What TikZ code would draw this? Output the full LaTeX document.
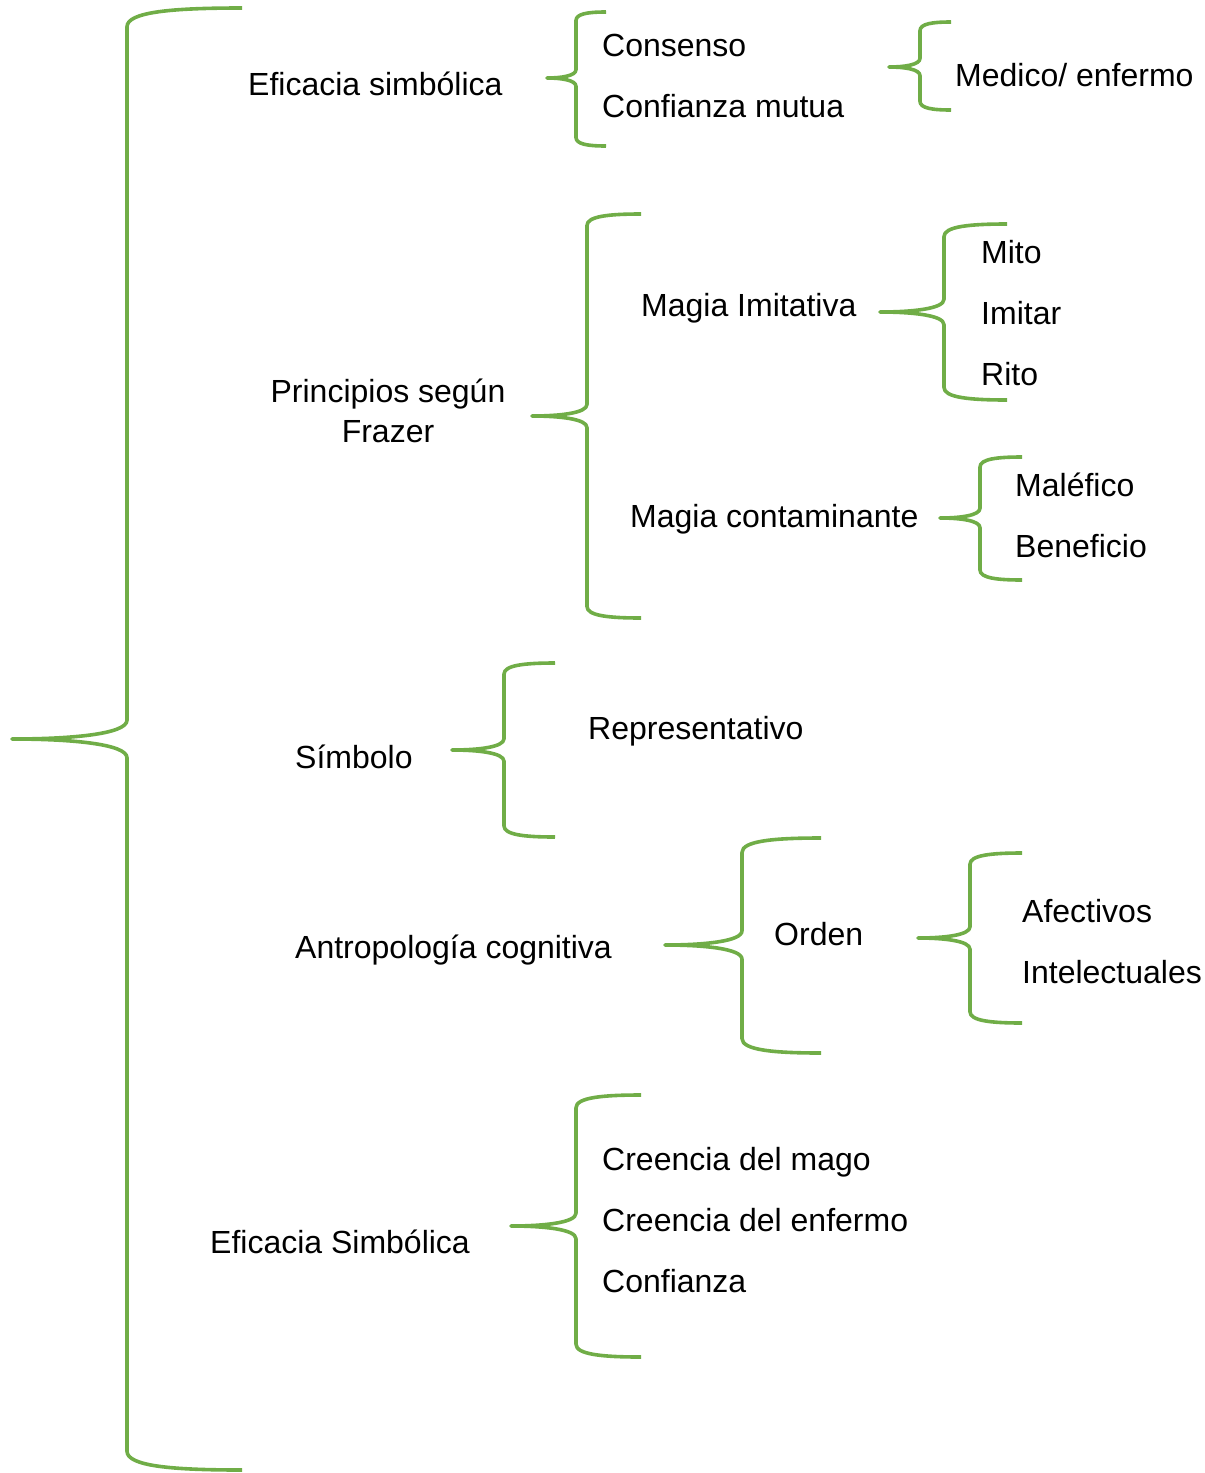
\documentclass[tikz,border=0pt]{standalone}
\usepackage{fontspec}
\setmainfont{Liberation Sans}
\definecolor{brgreen}{RGB}{112,173,71}
\tikzset{
  br/.style={draw=brgreen, line width=3.6pt, line join=round},
  lbl/.style={anchor=base west, inner sep=0pt, font=\fontsize{32}{40}\selectfont},
  clbl/.style={anchor=base, inner sep=0pt, align=center, font=\fontsize{32}{40}\selectfont},
}
% #1 tipx, #2 tipy, #3 spinex, #4 topy, #5 boty, #6 endx
\newcommand{\curlyb}[6]{%
  \pgfmathsetmacro{\bdx}{#6-#3}%
  \pgfmathsetmacro{\btdx}{#3-#1}%
  \pgfmathsetmacro{\br}{0.12*\bdx+5}%
  \pgfmathsetmacro{\bh}{0.12*\btdx+5}%
  \draw[br] (#6,#4) .. controls (#3+0.4*\bdx,#4) and (#3,#4+0.2*\br) .. (#3,#4+\br)
    -- (#3,#2-\bh) .. controls (#3,#2-0.25*\bh) and (#1+0.5*\btdx,#2) .. (#1,#2)
    .. controls (#1+0.5*\btdx,#2) and (#3,#2+0.25*\bh) .. (#3,#2+\bh)
    -- (#3,#5-\br) .. controls (#3,#5-0.2*\br) and (#3+0.4*\bdx,#5) .. (#6,#5);%
}
\begin{document}
\begin{tikzpicture}[x=1pt,y=-1pt]
\useasboundingbox (0,0) rectangle (1205,1473);
% braces
\curlyb{12}{739}{127}{8}{1470}{242}
\curlyb{547}{78}{576}{12}{146}{606}
\curlyb{889}{67}{920}{22}{110}{951}
\curlyb{532}{416}{587}{214}{618}{641}
\curlyb{880}{312}{944}{224}{400}{1007}
\curlyb{940}{518}{980}{457}{580}{1022}
\curlyb{452}{750}{504}{663}{837}{555}
\curlyb{665}{945}{742}{838}{1053}{821}
\curlyb{918}{938}{970}{853}{1023}{1022}
\curlyb{511}{1226}{576}{1095}{1357}{641}
% labels
\node[lbl] (efs) at (248,95.5) {Eficacia simbólica};
\node[lbl] (cons) at (602,56.5) {Consenso};
\node[lbl] (conf) at (602,117.5) {Confianza mutua};
\node[lbl] (med) at (955,86.5) {Medico/ enfermo};
\node[clbl] (prin) at (388,442.5) {Principios según\\Frazer};
\node[lbl] (mimi) at (641,316.5) {Magia Imitativa};
\node[lbl] (mito) at (981,263.5) {Mito};
\node[lbl] (imit) at (981,324.5) {Imitar};
\node[lbl] (rito) at (981,385.5) {Rito};
\node[lbl] (mcon) at (630,527.5) {Magia contaminante};
\node[lbl] (male) at (1015,496.5) {Maléfico};
\node[lbl] (bene) at (1015,557.5) {Beneficio};
\node[lbl] (repr) at (588,739.5) {Representativo};
\node[lbl] (simb) at (295,768.5) {Símbolo};
\node[lbl] (antr) at (295,958.5) {Antropología cognitiva};
\node[lbl] (orden) at (774,945.5) {Orden};
\node[lbl] (afec) at (1022,922.5) {Afectivos};
\node[lbl] (inte) at (1022,983.5) {Intelectuales};
\node[lbl] (cmag) at (602,1170.5) {Creencia del mago};
\node[lbl] (cenf) at (602,1231.5) {Creencia del enfermo};
\node[lbl] (cfz) at (602,1292.5) {Confianza};
\node[lbl] (efS) at (210,1253.5) {Eficacia Simbólica};
\end{tikzpicture}
\end{document}
